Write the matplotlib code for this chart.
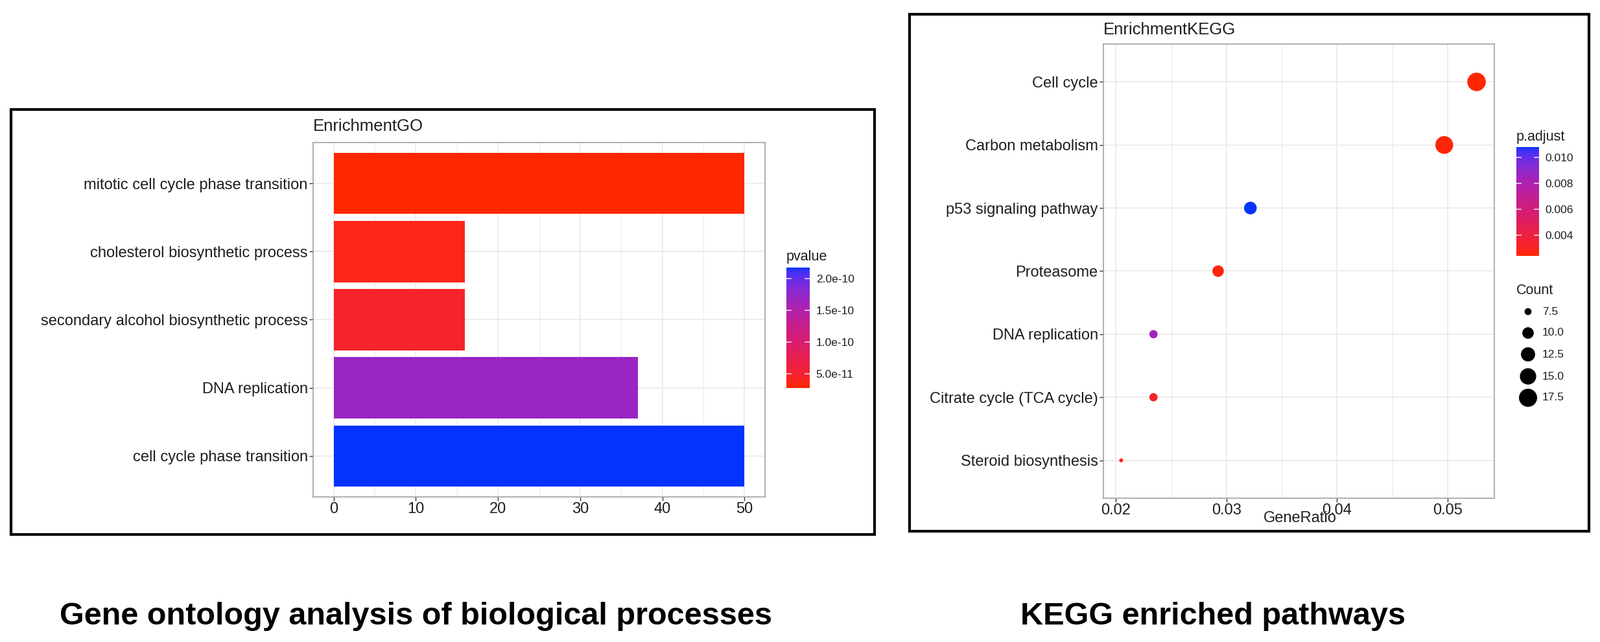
import numpy as np
import matplotlib
matplotlib.use("Agg")
import matplotlib.pyplot as plt
import matplotlib.colors as mcolors
from matplotlib.patches import Rectangle

plt.rcParams['font.family'] = ['Liberation Sans', 'DejaVu Sans']

# ---- data ----
go_terms = ['mitotic cell cycle phase transition', 'cholesterol biosynthetic process',
            'secondary alcohol biosynthetic process', 'DNA replication',
            'cell cycle phase transition']
go_count = [50, 16, 16, 37, 50]
go_pvalue = [2.74e-11, 3.6e-11, 4.8e-11, 1.70e-10, 2.17e-10]
go_pticks = [5.0e-11, 1.0e-10, 1.5e-10, 2.0e-10]
go_plabels = ['5.0e-11', '1.0e-10', '1.5e-10', '2.0e-10']

kegg_terms = ['Cell cycle', 'Carbon metabolism', 'p53 signaling pathway', 'Proteasome',
              'DNA replication', 'Citrate cycle (TCA cycle)', 'Steroid biosynthesis']
kegg_ratio = [18/342, 17/342, 11/342, 10/342, 8/342, 8/342, 7/342]
kegg_count = [18, 17, 11, 10, 8, 8, 7]
kegg_padj = [0.0024, 0.0025, 0.0108, 0.0026, 0.0085, 0.0033, 0.0026]
kegg_pticks = [0.004, 0.006, 0.008, 0.010]
kegg_plabels = ['0.004', '0.006', '0.008', '0.010']
count_breaks = [7.5, 10.0, 12.5, 15.0, 17.5]

LOW, HIGH = '#FF2600', '#0433FF'
GRID = '#EBEBEB'
BORDER = '#9A9A9A'
TXT = '#1E1E1E'

# ggplot style red->blue gradient, interpolated in Lab space
M = np.array([[0.4124, 0.3576, 0.1805], [0.2126, 0.7152, 0.0722], [0.0193, 0.1192, 0.9505]])
WHITE = np.array([0.95047, 1.0, 1.08883])


def to_lab(c):
    rgb = np.array(mcolors.to_rgb(c))
    lin = np.where(rgb <= 0.04045, rgb / 12.92, ((rgb + 0.055) / 1.055) ** 2.4)
    xyz = M @ lin / WHITE
    f = np.where(xyz > 0.008856, np.cbrt(xyz), 7.787 * xyz + 16 / 116)
    return np.array([116 * f[1] - 16, 500 * (f[0] - f[1]), 200 * (f[1] - f[2])])


def from_lab(lab):
    fy = (lab[0] + 16) / 116
    f = np.array([fy + lab[1] / 500, fy, fy - lab[2] / 200])
    xyz = np.where(f ** 3 > 0.008856, f ** 3, (f - 16 / 116) / 7.787) * WHITE
    lin = np.clip(np.linalg.solve(M, xyz), 0, 1)
    rgb = np.where(lin <= 0.0031308, 12.92 * lin, 1.055 * lin ** (1 / 2.4) - 0.055)
    return np.clip(rgb, 0, 1)


lab0, lab1 = to_lab(LOW), to_lab(HIGH)
cmap = mcolors.ListedColormap([from_lab(lab0 + t * (lab1 - lab0)) for t in np.linspace(0, 1, 256)])

W, H = 2468, 991
fig = plt.figure(figsize=(W / 100, H / 100), dpi=100)


def fax(x0, y0, x1, y1):
    # axes from pixel box (top-left origin)
    return fig.add_axes([x0 / W, 1 - y1 / H, (x1 - x0) / W, (y1 - y0) / H])


def style_panel(ax):
    for s in ax.spines.values():
        s.set_color(BORDER)
        s.set_linewidth(1.1)
    ax.grid(True, which='major', color=GRID, lw=1.3)
    ax.grid(True, which='minor', axis='x', color=GRID, lw=0.8)
    ax.set_axisbelow(True)
    ax.tick_params(which='major', length=4, width=1, color='#333333', labelcolor=TXT,
                   labelsize=17, pad=2)
    ax.tick_params(which='minor', length=0)


def colorbar(x0, y0, x1, y1, vmin, vmax, ticks, labels, title):
    cax = fax(x0, y0, x1, y1)
    grad = np.linspace(vmin, vmax, 300).reshape(-1, 1)
    cax.imshow(grad, aspect='auto', origin='lower', cmap=cmap,
               extent=[0, 1, vmin, vmax], vmin=vmin, vmax=vmax)
    cax.set_xlim(0, 1)
    cax.set_ylim(vmin, vmax)
    for t in ticks:
        cax.plot([0, 0.2], [t, t], color='white', lw=1.2, alpha=0.8)
        cax.plot([0.8, 1], [t, t], color='white', lw=1.2, alpha=0.8)
    cax.set_xticks([])
    cax.yaxis.tick_right()
    cax.set_yticks(ticks)
    cax.set_yticklabels(labels)
    cax.tick_params(axis='y', length=0, labelsize=12.5, pad=7, labelcolor=TXT)
    for s in cax.spines.values():
        s.set_visible(False)
    cax.text(0, 1.03, title, transform=cax.transAxes, fontsize=15.5, ha='left',
             va='bottom', color=TXT)


# ---- background, boxes, captions ----
bg = fig.add_axes([0, 0, 1, 1])
bg.set_xlim(0, W)
bg.set_ylim(H, 0)
bg.axis('off')
bg.add_patch(Rectangle((17, 169), 1332, 656, fill=False, lw=3, ec='black'))
bg.add_patch(Rectangle((1403, 22), 1048, 798, fill=False, lw=3, ec='black'))
bg.text(642, 951, 'Gene ontology analysis of biological processes', fontsize=35,
        fontweight='bold', ha='center', va='center')
bg.text(1871, 951, 'KEGG enriched pathways', fontsize=35, fontweight='bold',
        ha='center', va='center')

# ---- EnrichmentGO bar chart ----
ax1 = fax(483, 220, 1180, 767)
ypos = np.arange(len(go_terms))[::-1]
norm1 = mcolors.Normalize(min(go_pvalue), max(go_pvalue))
ax1.barh(ypos, go_count, height=0.9, color=cmap(norm1(np.array(go_pvalue))), zorder=2)
ax1.set_yticks(ypos)
ax1.set_yticklabels(go_terms)
ax1.set_ylim(-0.6, len(go_terms) - 0.4)
ax1.set_xlim(-2.5, 52.5)
ax1.set_xticks([0, 10, 20, 30, 40, 50])
ax1.set_xticks([5, 15, 25, 35, 45], minor=True)
style_panel(ax1)
ax1.text(0, 1.046, 'EnrichmentGO', transform=ax1.transAxes, fontsize=18.5,
         ha='left', va='center', color=TXT)
colorbar(1213, 413, 1249, 599, min(go_pvalue), max(go_pvalue), go_pticks, go_plabels,
         'pvalue')

# ---- EnrichmentKEGG dot plot ----
ax2 = fax(1702, 68, 2305, 769)
kpos = np.arange(len(kegg_terms))[::-1]
norm2 = mcolors.Normalize(min(kegg_padj), max(kegg_padj))
cmin, cmax = min(kegg_count), max(kegg_count)


def dot_size(c):
    # ggplot scale_size area mapping, range 1..6 mm -> scatter area in pt^2
    size_mm = 1 + 5 * np.sqrt((np.asarray(c, float) - cmin) / (cmax - cmin))
    diam_px = 1.58 * (2.845 * size_mm + 0.945)
    return (diam_px * 0.72) ** 2


ax2.scatter(kegg_ratio, kpos, s=dot_size(kegg_count),
            c=cmap(norm2(np.array(kegg_padj))), edgecolors='none', zorder=3)
ax2.set_yticks(kpos)
ax2.set_yticklabels(kegg_terms)
ax2.set_ylim(-0.6, len(kegg_terms) - 0.4)
lo, hi = min(kegg_ratio), max(kegg_ratio)
pad = (hi - lo) * 0.05
ax2.set_xlim(lo - pad, hi + pad)
ax2.set_xticks([0.02, 0.03, 0.04, 0.05])
ax2.set_xticklabels(['0.02', '0.03', '0.04', '0.05'])
ax2.set_xticks([0.025, 0.035, 0.045], minor=True)
style_panel(ax2)
ax2.text(0, 1.031, 'EnrichmentKEGG', transform=ax2.transAxes, fontsize=18.5,
         ha='left', va='center', color=TXT)
bg.text(2005, 800, 'GeneRatio', fontsize=17, ha='center', va='center', color=TXT)

colorbar(2339, 227, 2374, 395, min(kegg_padj), max(kegg_padj), kegg_pticks, kegg_plabels,
         'p.adjust')

# size legend
bg.text(2339, 449, 'Count', fontsize=15.5, ha='left', va='center', color=TXT)
leg_y = [481, 514, 547, 581, 614]
bg.scatter([2357] * len(count_breaks), leg_y, s=dot_size(count_breaks), c='black',
           edgecolors='none')
for yy, b in zip(leg_y, count_breaks):
    bg.text(2379, yy, f'{b:.1f}', fontsize=12.5, ha='left', va='center', color=TXT)

fig.savefig('out.png', dpi=100, facecolor='white')
